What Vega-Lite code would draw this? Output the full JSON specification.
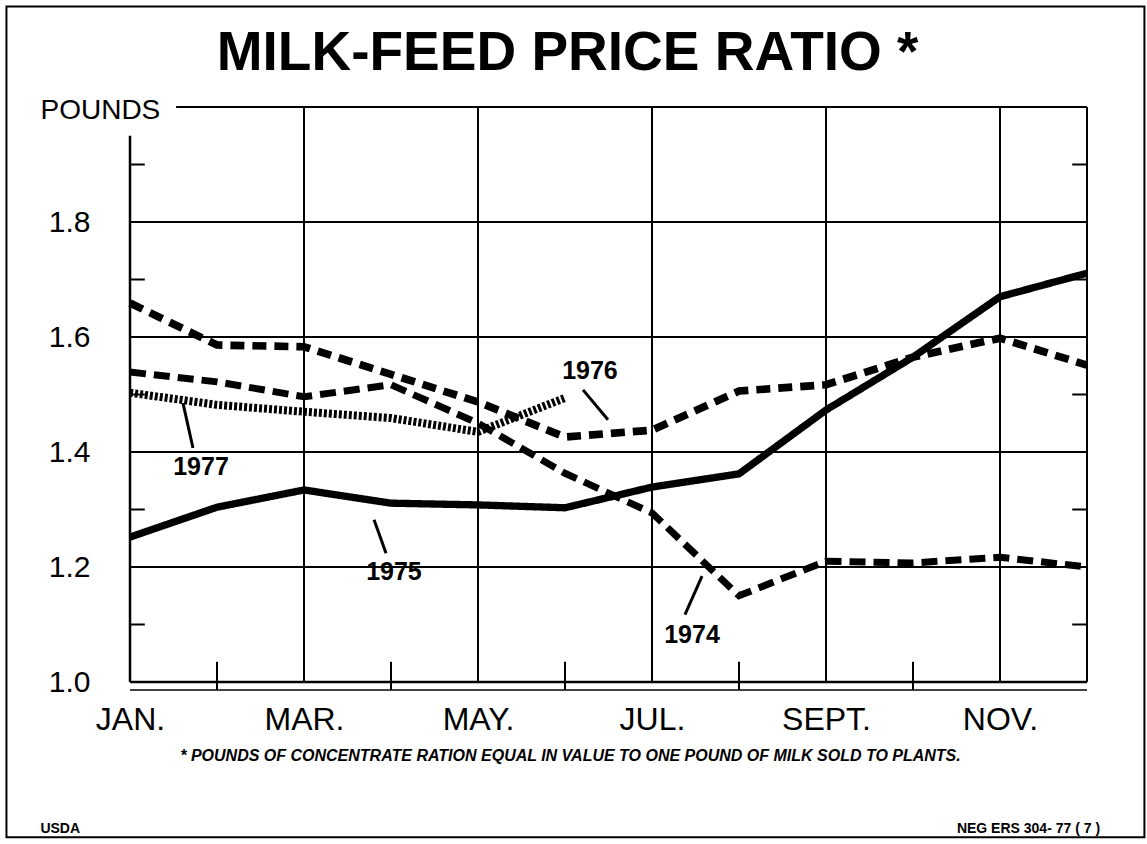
{
  "$schema": "https://vega.github.io/schema/vega-lite/v6.json",
  "width": 957,
  "height": 575,
  "autosize": {"type": "none"},
  "padding": {"left": 130, "top": 107, "right": 60, "bottom": 162},
  "background": "white",
  "config": {"view": {"stroke": null}},
  "datasets": {
    "series": [
      {"year": "1974", "m": 1, "v": 1.539}, {"year": "1974", "m": 2, "v": 1.522}, {"year": "1974", "m": 3, "v": 1.496},
      {"year": "1974", "m": 4, "v": 1.517}, {"year": "1974", "m": 5, "v": 1.45}, {"year": "1974", "m": 6, "v": 1.363},
      {"year": "1974", "m": 7, "v": 1.294}, {"year": "1974", "m": 8, "v": 1.15}, {"year": "1974", "m": 9, "v": 1.21},
      {"year": "1974", "m": 10, "v": 1.207}, {"year": "1974", "m": 11, "v": 1.217}, {"year": "1974", "m": 12, "v": 1.2},
      {"year": "1975", "m": 1, "v": 1.252}, {"year": "1975", "m": 2, "v": 1.304}, {"year": "1975", "m": 3, "v": 1.334},
      {"year": "1975", "m": 4, "v": 1.311}, {"year": "1975", "m": 5, "v": 1.308}, {"year": "1975", "m": 6, "v": 1.303},
      {"year": "1975", "m": 7, "v": 1.339}, {"year": "1975", "m": 8, "v": 1.362}, {"year": "1975", "m": 9, "v": 1.473},
      {"year": "1975", "m": 10, "v": 1.565}, {"year": "1975", "m": 11, "v": 1.67}, {"year": "1975", "m": 12, "v": 1.711},
      {"year": "1976", "m": 1, "v": 1.659}, {"year": "1976", "m": 2, "v": 1.586}, {"year": "1976", "m": 3, "v": 1.583},
      {"year": "1976", "m": 4, "v": 1.535}, {"year": "1976", "m": 5, "v": 1.487}, {"year": "1976", "m": 6, "v": 1.426},
      {"year": "1976", "m": 7, "v": 1.438}, {"year": "1976", "m": 8, "v": 1.506}, {"year": "1976", "m": 9, "v": 1.517},
      {"year": "1976", "m": 10, "v": 1.565}, {"year": "1976", "m": 11, "v": 1.598}, {"year": "1976", "m": 12, "v": 1.551},
      {"year": "1977", "m": 1, "v": 1.503}, {"year": "1977", "m": 2, "v": 1.482}, {"year": "1977", "m": 3, "v": 1.47},
      {"year": "1977", "m": 4, "v": 1.459}, {"year": "1977", "m": 5, "v": 1.435}, {"year": "1977", "m": 6, "v": 1.494}
    ],
    "hgrid": [{"v": 1.2}, {"v": 1.4}, {"v": 1.6}, {"v": 1.8}],
    "vgrid": [{"m": 3}, {"m": 5}, {"m": 7}, {"m": 9}, {"m": 11}, {"m": 12}],
    "yminor": [{"v": 1.1}, {"v": 1.3}, {"v": 1.5}, {"v": 1.7}, {"v": 1.9}],
    "xminor": [{"m": 2}, {"m": 4}, {"m": 6}, {"m": 8}, {"m": 10}],
    "labels": [
      {"year": "1974", "m": 7.46, "v": 1.082, "pm": 7.575, "pv": 1.184, "pm2": 7.379, "pv2": 1.117},
      {"year": "1975", "m": 4.034, "v": 1.191, "pm": 3.805, "pv": 1.282, "pm2": 3.943, "pv2": 1.224},
      {"year": "1976", "m": 6.287, "v": 1.541, "pm": 6.207, "pv": 1.508, "pm2": 6.494, "pv2": 1.456},
      {"year": "1977", "m": 1.816, "v": 1.374, "pm": 1.609, "pv": 1.485, "pm2": 1.724, "pv2": 1.407}
    ],
    "headline": [{"text": "MILK-FEED PRICE RATIO *", "m": 6.03, "v": 2.064}],
    "noteLeft": [{"text": "USDA", "m": -0.03, "v": 0.745}],
    "noteRight": [{"text": "NEG  ERS 304- 77 ( 7 )", "m": 12.15, "v": 0.745}]
  },
  "layer": [
    {
      "data": {"name": "hgrid"},
      "mark": {"type": "rule", "color": "black", "strokeWidth": 2},
      "encoding": {
        "y": {"field": "v", "type": "quantitative", "scale": {"domain": [1, 2], "zero": false}},
        "x": {"datum": 1, "type": "quantitative", "scale": {"domain": [1, 12], "zero": false}},
        "x2": {"datum": 12}
      }
    },
    {
      "data": {"name": "vgrid"},
      "mark": {"type": "rule", "color": "black", "strokeWidth": 2},
      "encoding": {
        "x": {"field": "m", "type": "quantitative", "scale": {"domain": [1, 12], "zero": false}},
        "y": {"datum": 1, "type": "quantitative", "scale": {"domain": [1, 2], "zero": false}},
        "y2": {"datum": 2}
      }
    },
    {
      "data": {"values": [{}]},
      "mark": {"type": "rule", "color": "black", "strokeWidth": 2},
      "encoding": {
        "y": {"datum": 2, "type": "quantitative", "scale": {"domain": [1, 2], "zero": false}},
        "x": {"datum": 1.53, "type": "quantitative", "scale": {"domain": [1, 12], "zero": false}},
        "x2": {"datum": 12}
      }
    },
    {
      "data": {"values": [{}]},
      "mark": {"type": "rule", "color": "black", "strokeWidth": 2.5},
      "encoding": {
        "x": {"datum": 1, "type": "quantitative", "scale": {"domain": [1, 12], "zero": false}},
        "y": {"datum": 1, "type": "quantitative", "scale": {"domain": [1, 2], "zero": false}},
        "y2": {"datum": 1.95}
      }
    },
    {
      "data": {"values": [{}]},
      "mark": {"type": "rule", "color": "black", "strokeWidth": 2.5},
      "encoding": {
        "y": {"datum": 1, "type": "quantitative", "scale": {"domain": [1, 2], "zero": false}},
        "x": {"datum": 1, "type": "quantitative", "scale": {"domain": [1, 12], "zero": false}},
        "x2": {"datum": 12}
      }
    },
    {
      "data": {"values": [{}]},
      "mark": {"type": "rule", "color": "black", "strokeWidth": 1.5},
      "encoding": {
        "y": {"datum": 0.986, "type": "quantitative", "scale": {"domain": [1, 2], "zero": false}},
        "x": {"datum": 1, "type": "quantitative", "scale": {"domain": [1, 12], "zero": false}},
        "x2": {"datum": 12}
      }
    },
    {
      "data": {"name": "yminor"},
      "mark": {"type": "rule", "color": "black", "strokeWidth": 2},
      "encoding": {
        "y": {"field": "v", "type": "quantitative", "scale": {"domain": [1, 2], "zero": false}},
        "x": {"datum": 1, "type": "quantitative", "scale": {"domain": [1, 12], "zero": false}},
        "x2": {"datum": 1.17}
      }
    },
    {
      "data": {"name": "yminor"},
      "mark": {"type": "rule", "color": "black", "strokeWidth": 2},
      "encoding": {
        "y": {"field": "v", "type": "quantitative", "scale": {"domain": [1, 2], "zero": false}},
        "x": {"datum": 11.83, "type": "quantitative", "scale": {"domain": [1, 12], "zero": false}},
        "x2": {"datum": 12}
      }
    },
    {
      "data": {"name": "xminor"},
      "mark": {"type": "rule", "color": "black", "strokeWidth": 2},
      "encoding": {
        "x": {"field": "m", "type": "quantitative", "scale": {"domain": [1, 12], "zero": false}},
        "y": {"datum": 0.986, "type": "quantitative", "scale": {"domain": [1, 2], "zero": false}},
        "y2": {"datum": 1.035}
      }
    },
    {
      "data": {"values": [{}]},
      "mark": {"type": "rect", "fill": null, "stroke": "black", "strokeWidth": 2},
      "encoding": {
        "x": {"datum": -0.42, "type": "quantitative", "scale": {"domain": [1, 12], "zero": false}},
        "x2": {"datum": 12.66},
        "y": {"datum": 0.73, "type": "quantitative", "scale": {"domain": [1, 2], "zero": false}},
        "y2": {"datum": 2.175}
      }
    },
    {
      "data": {"name": "series"},
      "mark": {"type": "line", "color": "black", "strokeJoin": "miter"},
      "encoding": {
        "x": {
          "field": "m", "type": "quantitative",
          "scale": {"domain": [1, 12], "zero": false},
          "axis": {
            "values": [1, 3, 5, 7, 9, 11],
            "labelExpr": "['','JAN.','','MAR.','','MAY.','','JUL.','','SEPT.','','NOV.'][datum.value]",
            "grid": false, "ticks": false, "domain": false, "labelFlush": false,
            "labelFont": "Liberation Sans, sans-serif",
            "labelFontSize": 32, "labelColor": "black", "labelPadding": 22,
            "labelBaseline": "top",
            "title": "* POUNDS OF CONCENTRATE RATION EQUAL IN VALUE TO ONE POUND OF MILK SOLD TO PLANTS.",
            "titleFont": "Liberation Sans, sans-serif",
            "titleFontSize": 16, "titleFontWeight": "bold", "titleFontStyle": "italic",
            "titleColor": "black", "titleX": 440, "titleAnchor": "middle", "titlePadding": 12
          }
        },
        "y": {
          "field": "v", "type": "quantitative",
          "scale": {"domain": [1, 2], "zero": false},
          "axis": {
            "values": [1.0, 1.2, 1.4, 1.6, 1.8],
            "format": ".1f",
            "grid": false, "ticks": false, "domain": false, "labelFlush": false,
            "labelFont": "Liberation Sans, sans-serif",
            "labelFontSize": 30, "labelColor": "black", "labelPadding": 40,
            "title": "POUNDS",
            "titleAngle": 0, "titleAlign": "left", "titleBaseline": "alphabetic",
            "titleX": -90, "titleY": 11,
            "titleFont": "Liberation Sans, sans-serif",
            "titleFontSize": 28, "titleFontWeight": "normal", "titleColor": "black"
          }
        },
        "detail": {"field": "year"},
        "strokeDash": {
          "field": "year", "type": "nominal", "legend": null,
          "scale": {"domain": ["1974", "1975", "1976", "1977"], "range": [[16, 8], [1, 0], [14, 8], [3, 2]]}
        },
        "strokeWidth": {
          "field": "year", "type": "nominal", "legend": null,
          "scale": {"domain": ["1974", "1975", "1976", "1977"], "range": [7, 8, 6, 6]}
        }
      }
    },
    {
      "data": {"name": "labels"},
      "mark": {"type": "rule", "color": "black", "strokeWidth": 3},
      "encoding": {
        "x": {"field": "pm", "type": "quantitative", "scale": {"domain": [1, 12], "zero": false}},
        "y": {"field": "pv", "type": "quantitative", "scale": {"domain": [1, 2], "zero": false}},
        "x2": {"field": "pm2"}, "y2": {"field": "pv2"}
      }
    },
    {
      "data": {"name": "labels"},
      "mark": {"type": "text", "font": "Liberation Sans, sans-serif", "fontWeight": "bold", "fontSize": 25, "color": "black", "align": "center", "baseline": "middle"},
      "encoding": {
        "x": {"field": "m", "type": "quantitative", "scale": {"domain": [1, 12], "zero": false}},
        "y": {"field": "v", "type": "quantitative", "scale": {"domain": [1, 2], "zero": false}},
        "text": {"field": "year"}
      }
    },
    {
      "data": {"name": "headline"},
      "mark": {"type": "text", "font": "Liberation Sans, sans-serif", "fontWeight": "bold", "fontSize": 55, "color": "black", "align": "center", "baseline": "alphabetic"},
      "encoding": {
        "x": {"field": "m", "type": "quantitative", "scale": {"domain": [1, 12], "zero": false}},
        "y": {"field": "v", "type": "quantitative", "scale": {"domain": [1, 2], "zero": false}},
        "text": {"field": "text"}
      }
    },
    {
      "data": {"name": "noteLeft"},
      "mark": {"type": "text", "font": "Liberation Sans, sans-serif", "fontWeight": "bold", "fontSize": 14, "color": "black", "align": "left", "baseline": "middle"},
      "encoding": {
        "x": {"field": "m", "type": "quantitative", "scale": {"domain": [1, 12], "zero": false}},
        "y": {"field": "v", "type": "quantitative", "scale": {"domain": [1, 2], "zero": false}},
        "text": {"field": "text"}
      }
    },
    {
      "data": {"name": "noteRight"},
      "mark": {"type": "text", "font": "Liberation Sans, sans-serif", "fontWeight": "bold", "fontSize": 14, "color": "black", "align": "right", "baseline": "middle"},
      "encoding": {
        "x": {"field": "m", "type": "quantitative", "scale": {"domain": [1, 12], "zero": false}},
        "y": {"field": "v", "type": "quantitative", "scale": {"domain": [1, 2], "zero": false}},
        "text": {"field": "text"}
      }
    }
  ]
}
